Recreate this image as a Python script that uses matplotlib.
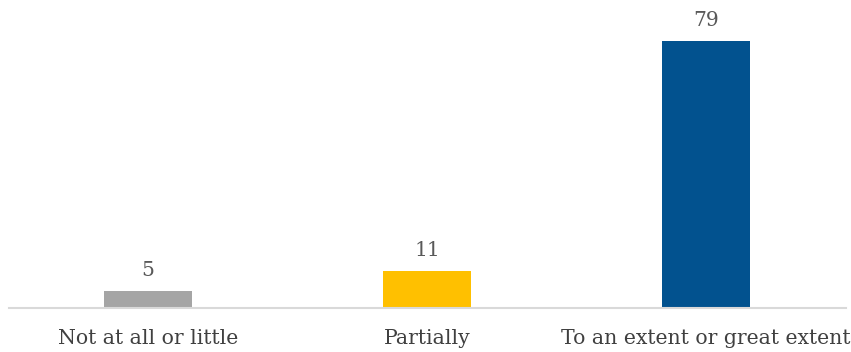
import matplotlib
matplotlib.use("Agg")
import matplotlib.pyplot as plt

categories = ["Not at all or little", "Partially", "To an extent or great extent"]
values = [5, 11, 79]
colors = ["#A5A5A5", "#FFC000", "#02528F"]

plt.rcParams["font.family"] = ["DejaVu Serif"]

fig = plt.figure(figsize=(8.51, 3.52), dpi=100)
ax = fig.add_axes([8.5 / 851, 44 / 352, 837 / 851, 304 / 352])

x = list(range(len(categories)))
bars = ax.bar(x, values, width=0.315, color=colors, zorder=2)

for xi, v in zip(x, values):
    ax.annotate(str(v), (xi, v), xytext=(0, 15), textcoords="offset points",
                ha="center", va="center", fontsize=14.5, color="#595959")

ax.set_xlim(-0.5, 2.5)
ax.set_ylim(0, 90)
ax.set_xticks(x)
ax.set_xticklabels(categories, fontsize=14.7, color="#404040")
ax.tick_params(axis="x", length=0, pad=15)
ax.set_yticks([])
for side in ["left", "right", "top"]:
    ax.spines[side].set_visible(False)
ax.spines["bottom"].set_color("#D9D9D9")
ax.spines["bottom"].set_linewidth(1.5)

fig.savefig("out.png", dpi=100)
